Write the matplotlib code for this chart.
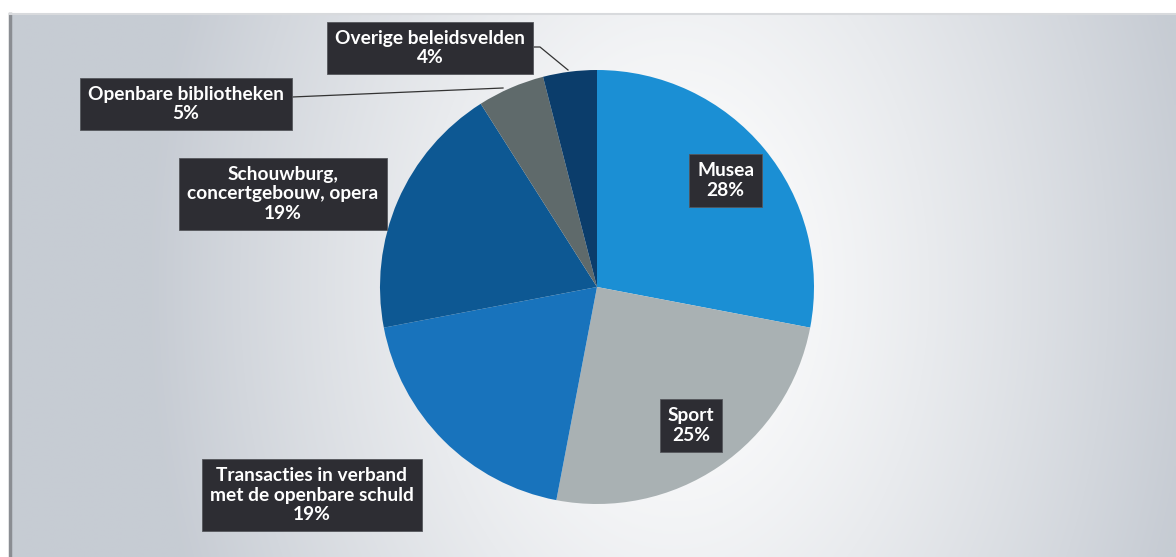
import numpy as np
import matplotlib.pyplot as plt
from matplotlib.lines import Line2D

plt.rcParams['font.family'] = ['Lato', 'DejaVu Sans']

# budget shares per policy area
labels = ['Musea', 'Sport', 'Transacties in verband\nmet de openbare schuld',
          'Schouwburg,\nconcertgebouw, opera', 'Openbare bibliotheken',
          'Overige beleidsvelden']
shares = [28, 25, 19, 19, 5, 4]
colors = ['#1b8fd4', '#a9b1b3', '#1873bc', '#0d5893', '#5f6a6b', '#0b3d6b']

W, H = 1176, 557
cx, cy, R = 597, H - 287, 217

# label anchors (pixels, y from the top); None = inside the slice
label_xy = [None, None, (312, 495), (283, 194), (186, 104), (430, 48)]

fig = plt.figure(figsize=(W / 100, H / 100), dpi=100)
ax = fig.add_axes([0, 0, 1, 1])

# soft grey backdrop, brightest just right of the pie
gx = np.linspace(0, 1, 400)
gy = np.linspace(0, 1, 200)
X, Y = np.meshgrid(gx, gy)
d = np.sqrt(((X - 0.57) / 0.45) ** 2 + ((Y - 0.5) / 1.4) ** 2)
t = np.clip(d, 0, 1) ** 1.3
lo = np.array([1.0, 1.0, 1.0])
hi = np.array([0.78, 0.80, 0.83])
img = lo + (hi - lo) * t[..., None]
ax.imshow(img, extent=(10, W, 0, H - 14), aspect='auto', zorder=0,
          interpolation='bilinear')
ax.add_line(Line2D([10, 10], [0, H - 14], color='#8a8d92', lw=2.5, zorder=1))
ax.add_line(Line2D([10, W], [H - 14, H - 14], color='#d8dadd', lw=1.5,
                   zorder=1))

wedges, _ = ax.pie(shares, colors=colors, startangle=90, counterclock=False,
                   center=(cx, cy), radius=R,
                   wedgeprops=dict(linewidth=0, zorder=2))

box = dict(boxstyle='square,pad=0.42', facecolor='#2d2d33',
           edgecolor='#55575c', linewidth=0.6)

for w, lab, s, pos in zip(wedges, labels, shares, label_xy):
    txt = '{}\n{}%'.format(lab, s)
    if pos is None:
        mid = np.deg2rad((w.theta1 + w.theta2) / 2)
        x = cx + 0.77 * R * np.cos(mid)
        y = cy + 0.77 * R * np.sin(mid)
    else:
        x, y = pos[0], H - pos[1]
    ax.text(x, y, txt, ha='center', va='center', color='white',
            fontsize=13.8, fontweight='bold', linespacing=1.2,
            bbox=box, zorder=5)

# leader lines for the two thin slices
ax.add_line(Line2D([292, 503], [H - 97, H - 88], color='#333333', lw=0.9,
                   zorder=4))
ax.add_line(Line2D([534, 540, 568], [H - 47, H - 47, H - 70],
                   color='#333333', lw=0.9, zorder=4))

ax.set_xlim(0, W)
ax.set_ylim(0, H)
ax.set_aspect('auto')
ax.axis('off')

fig.savefig('out.png', dpi=100, facecolor='white')
